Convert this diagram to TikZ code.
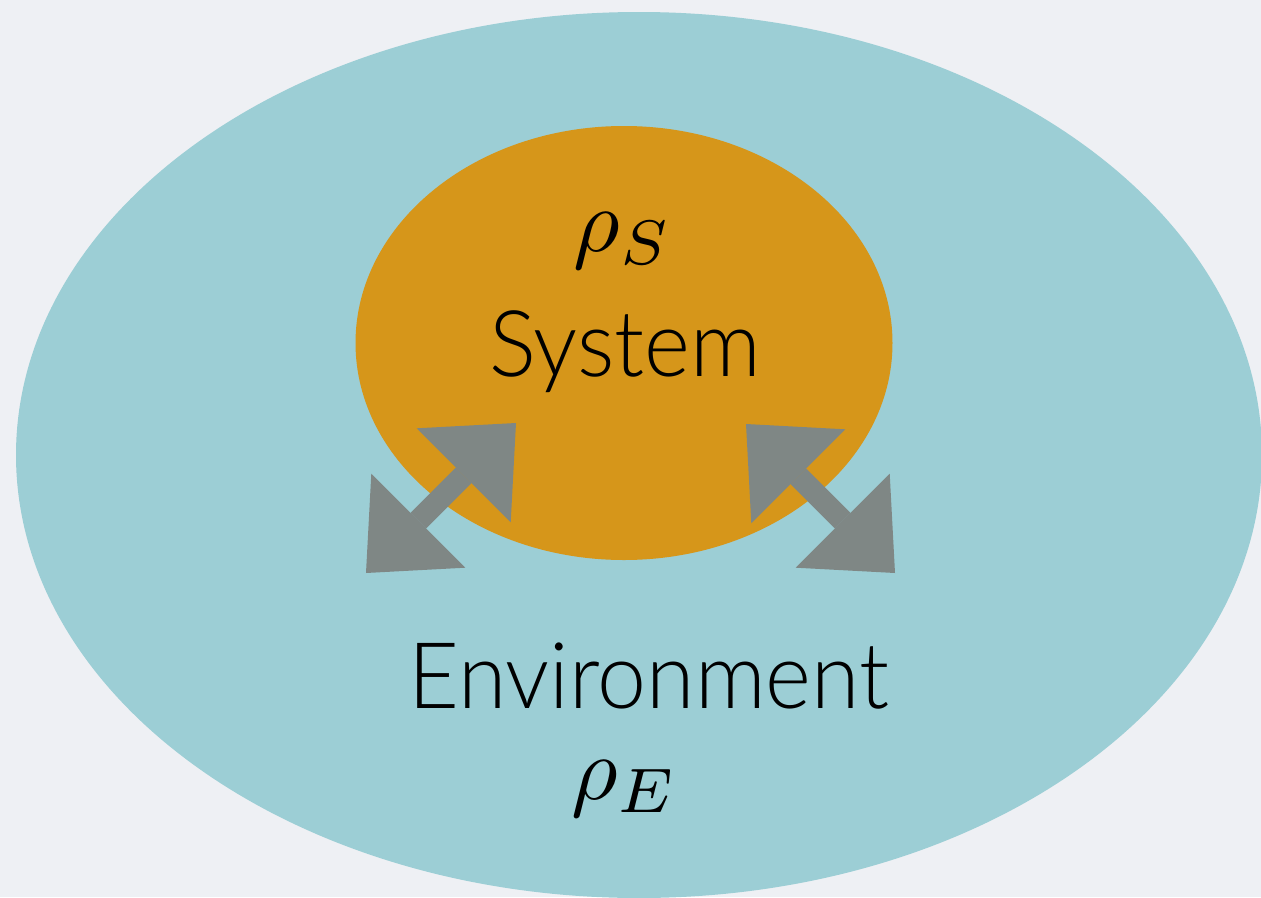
\documentclass[tikz,border=0pt]{standalone}
\usepackage{graphicx}
\usepackage{fontspec}
\setmainfont{Lato Light}[FakeStretch=0.955]
\usetikzlibrary{shapes.geometric,arrows.meta}

\definecolor{bgcol}{HTML}{EEF0F4}
\definecolor{envcol}{HTML}{9CCED5}
\definecolor{syscol}{HTML}{D6961A}
\definecolor{arrcol}{HTML}{7F8785}

\newcommand{\bigsym}[1]{\scalebox{9}{\fontsize{10}{12}\selectfont$#1$}}

\tikzset{
	blob/.style={ellipse, inner sep=0pt},
	exch/.style={draw=arrcol, line width=22pt,
		{Triangle[length=74pt,width=133pt,line width=0pt]}-{Triangle[length=74pt,width=133pt,line width=0pt]}},
	word/.style={anchor=base, inner sep=0pt, font=\fontsize{92}{110}\selectfont},
	sym/.style={anchor=base, inner sep=0pt},
}

\begin{document}
\begin{tikzpicture}[x=1pt,y=-1pt]
	\useasboundingbox (0,0) rectangle (1261,897);
	\fill[bgcol] (0,0) rectangle (1261,897);
	\clip (0,0) rectangle (1261,897);
	% environment and system
	\node[blob, fill=envcol, minimum width=1246pt, minimum height=886pt] (env) at (639,455) {};
	\node[blob, fill=syscol, minimum width=537pt, minimum height=434pt] (sys) at (624,343) {};
	% ends of the exchange arrows
	\coordinate (sysL) at (516,423);
	\coordinate (envL) at (366,573);
	\coordinate (sysR) at (746,424);
	\coordinate (envR) at (895,573);
	\draw[exch] (envL) -- (sysL);
	\draw[exch] (sysR) -- (envR);
	% labels
	\node[sym] (rhoS) at (623,251) {\bigsym{\rho_S}};
	\node[word] (sysname) at (625,376) {System};
	\node[word] (envname) at (649,708) {Environment};
	\node[sym] (rhoE) at (625,799) {\bigsym{\rho_E}};
\end{tikzpicture}
\end{document}
